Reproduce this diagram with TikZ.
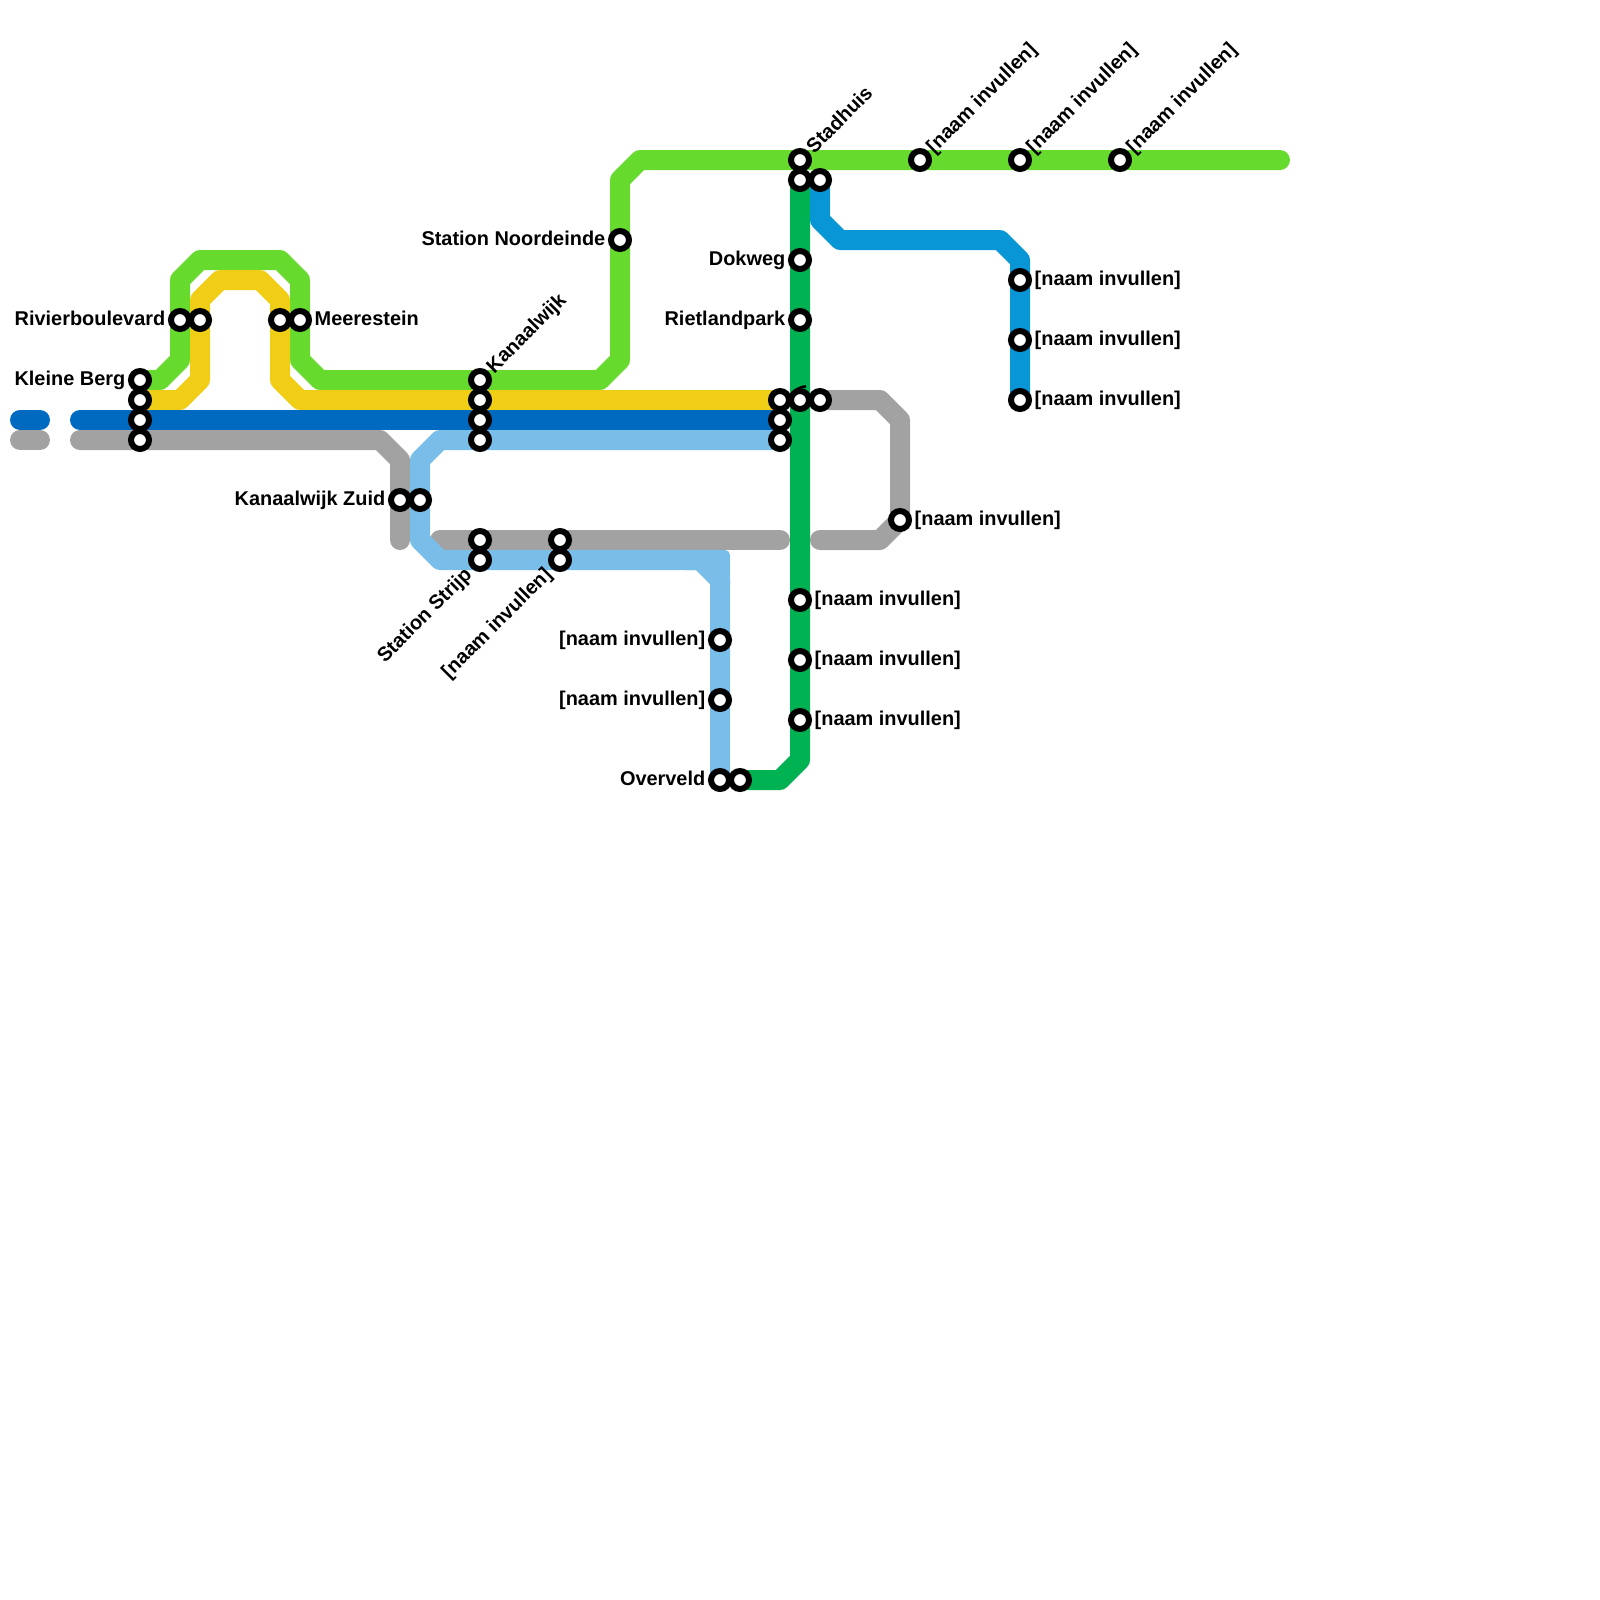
\documentclass[tikz,border=0pt]{standalone}
\usepackage{fontspec}
\setmainfont{Liberation Sans}
\usetikzlibrary{positioning, calc}
\definecolor{limeline}{HTML}{66DB2D}
\definecolor{yellowline}{HTML}{F0CE15}
\definecolor{navyline}{HTML}{0069C0}
\definecolor{skyline}{HTML}{79BDE9}
\definecolor{greyline}{HTML}{A2A2A2}
\definecolor{forestline}{HTML}{00B251}
\definecolor{cyanline}{HTML}{0896D7}

\begin{document}
\begin{tikzpicture}[
                x=0.2cm, y=-0.2cm,
                metro/.style={line width=2mm, line cap=round, line join=round},
                stn/.style={circle, draw=black, fill=white, line width=0.6mm, minimum size=1.8mm, inner sep=0pt},
                lbl/.style={inner sep=0pt, font=\bfseries\fontsize{5.67pt}{6pt}\selectfont, text height=4pt, text depth=0.6pt},
                lblr/.style={lbl, right=0.2mm of #1},
                lbll/.style={lbl, left=0.2mm of #1},
                lblup/.style={lbl, rotate=45, anchor=west},
                lbldown/.style={lbl, rotate=45, anchor=east}
            ]
                \useasboundingbox (0,0) rectangle (80,80);

                % Lines
                \coordinate (n1) at (1,21);
                \coordinate (n2) at (2,21);
                \coordinate (g1) at (1,22);
                \coordinate (g2) at (2,22);
                \draw[metro, navyline] (n1) -- (n2);
                \draw[metro, greyline] (g1) -- (g2);
                \draw[metro, greyline] (4,22) -- (19,22) -- (20,23) -- (20,27);
                \draw[metro, greyline] (22,27) -- (39,27);
                \draw[metro, greyline] (41,20) -- (44,20) -- (45,21) -- (45,26) -- (44,27) -- (41,27);
                \draw[metro, limeline] (7,19) -- (8,19) -- (9,18) -- (9,14) -- (10,13) -- (14,13) -- (15,14) -- (15,18) -- (16,19)
                    -- (30,19) -- (31,18) -- (31,9) -- (32,8) -- (64,8);
                \draw[metro, yellowline] (7,20) -- (9,20) -- (10,19) -- (10,15) -- (11,14) -- (13,14) -- (14,15) -- (14,19) -- (15,20) -- (39,20);
                \draw[metro, navyline] (4,21) -- (39,21);
                \draw[metro, skyline] (39,22) -- (22,22) -- (21,23) -- (21,27) -- (22,28) -- (35,28) -- (36,29) -- (36,39);
                \fill[skyline, rounded corners=0.5mm] (34,27.5) -- (36.5,27.5) -- (36.5,29.5) -- (36,29.5) -- (35,28.5) -- (34,28.5) -- cycle;
                \draw[metro, forestline] (37,39) -- (39,39) -- (40,38) -- (40,9);
                \draw[metro, cyanline] (41,9) -- (41,11) -- (42,12) -- (50,12) -- (51,13) -- (51,20);

                % Stations west
                \node[stn] (berg1) at (7,19) {};
                \node[stn] (berg2) at (7,20) {};
                \node[stn] (berg3) at (7,21) {};
                \node[stn] (berg4) at (7,22) {};
                \node[stn] (rivier1) at (9,16) {};
                \node[stn] (rivier2) at (10,16) {};
                \node[stn] (meer1) at (14,16) {};
                \node[stn] (meer2) at (15,16) {};
                \node[lbll=berg1] {Kleine Berg};
                \node[lbll=rivier1] {Rivierboulevard};
                \node[lblr=meer2] {Meerestein};

                % Stations centre
                \foreach \y/\name in {19/kanaal1, 20/kanaal2, 21/kanaal3, 22/kanaal4, 27/strijp1, 28/strijp2}
                    \node[stn] (\name) at (24,\y) {};
                \node[stn] (invul1) at (28,27) {};
                \node[stn] (invul2) at (28,28) {};
                \node[stn] (zuid1) at (20,25) {};
                \node[stn] (zuid2) at (21,25) {};
                \node[stn] (noord) at (31,12) {};
                \node[lblup] at ($(kanaal1)+(0.48,-0.48)$) {Kanaalwijk};
                \node[lbldown] at ($(strijp2)+(-0.55,0.55)$) {Station Strijp};
                \node[lbldown] at ($(invul2)+(-0.55,0.55)$) {[naam invullen]};
                \node[lbll=zuid1] {Kanaalwijk Zuid};
                \node[lbll=noord] {Station Noordeinde};

                % Sky line south
                \node[stn] (sky1) at (36,32) {};
                \node[stn] (sky2) at (36,35) {};
                \node[stn] (over1) at (36,39) {};
                \node[stn] (over2) at (37,39) {};
                \node[lbll=sky1] {[naam invullen]};
                \node[lbll=sky2] {[naam invullen]};
                \node[lbll=over1] {Overveld};

                % Stations forest line
                \node[stn] (stad1) at (40,8) {};
                \node[stn] (stad2) at (40,9) {};
                \node[stn] (stad3) at (41,9) {};
                \node[stn] (dok) at (40,13) {};
                \node[stn] (riet) at (40,16) {};
                \node[stn] (oost1) at (39,20) {};
                \node[stn] (oost2) at (39,21) {};
                \node[stn] (oost3) at (39,22) {};
                \node[stn] (oost5) at (41,20) {};
                \node[stn] (oost4) at (40,20) {};
                \draw[black, line width=0.25mm] (39.7,19.55) .. controls (39.95,19.4) and (40.1,19.32) .. (40.3,19.32);
                \node[stn] (forest1) at (40,30) {};
                \node[stn] (forest2) at (40,33) {};
                \node[stn] (forest3) at (40,36) {};
                \node[lblup] at ($(stad1)+(0.48,-0.48)$) {Stadhuis};
                \node[lbll=dok] {Dokweg};
                \node[lbll=riet] {Rietlandpark};
                \node[lblr=forest1] {[naam invullen]};
                \node[lblr=forest2] {[naam invullen]};
                \node[lblr=forest3] {[naam invullen]};

                % Stations east
                \foreach \x/\name in {46/top1, 51/top2, 56/top3} {
                    \node[stn] (\name) at (\x,8) {};
                    \node[lblup] at ($(\name)+(0.48,-0.48)$) {[naam invullen]};
                }
                \foreach \y/\name in {14/cyan1, 17/cyan2, 20/cyan3} {
                    \node[stn] (\name) at (51,\y) {};
                    \node[lblr=\name] {[naam invullen]};
                }
                \node[stn] (grijs) at (45,26) {};
                \node[lblr=grijs] {[naam invullen]};
            \end{tikzpicture}
\end{document}
